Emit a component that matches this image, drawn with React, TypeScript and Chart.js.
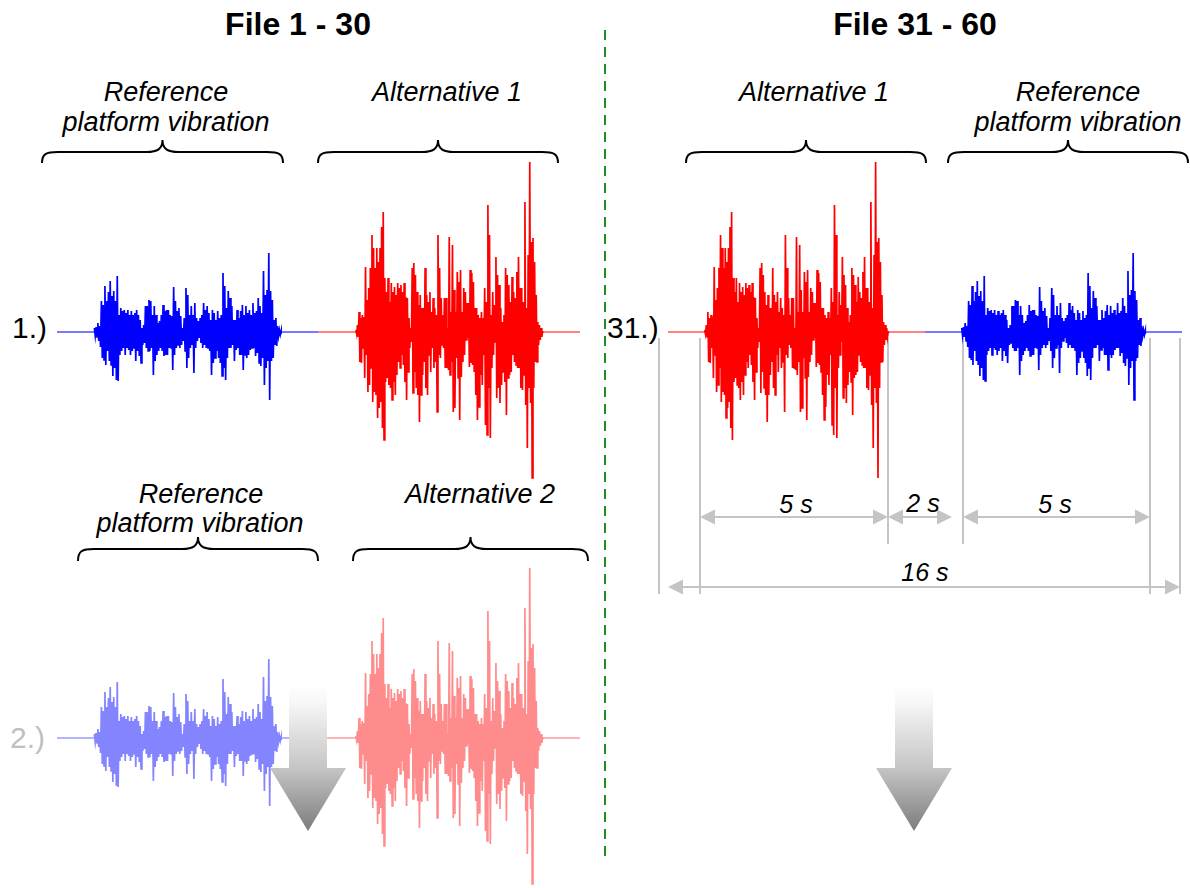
import React, { useEffect, useRef } from "react";
import { Chart, registerables } from "chart.js";

Chart.register(...registerables);

// ---- Signal envelopes (amplitude) ----
// Reference platform vibration: upper / lower peak per sample
const REF_HI = [
  4, 5, 9, 6, 31, 27, 46, 31, 40, 51, 36, 41, 31, 56, 17, 24, 21, 22, 19, 22,
  17, 21, 17, 19, 22, 17, 12, 4, 7, 26, 26, 32, 31, 17, 26, 17, 9, 11, 17, 27,
  21, 22, 22, 17, 16, 45, 31, 21, 24, 16, 4, 14,
  44, 37, 17, 26, 17, 29, 14, 11, 14, 17, 29, 22, 26, 19, 12, 22, 19, 12, 21, 14,
  17, 59, 46, 24, 41, 34, 26, 12, 12, 22, 14, 21, 27, 17, 26, 19, 22, 17, 29, 19,
  21, 34, 26, 19, 61, 37, 42, 79, 41, 32, 12, 14, 6, 2, 1,
];
const REF_LO = [
  -4, -5, -9, -15, -26, -28, -33, -19, -29, -33, -44, -36, -48, -49, -23, -19, -16, -23, -16, -18,
  -23, -19, -16, -29, -19, -24, -31, -13, -11, -16, -19, -19, -16, -43, -29, -23, -19, -16, -19, -24,
  -23, -23, -16, -16, -38, -23, -16, -13, -16, -13, -9, -19,
  -36, -26, -16, -13, -41, -16, -9, -6, -11, -16, -13, -16, -16, -19, -43, -31, -26, -19, -26, -31,
  -44, -36, -48, -26, -16, -16, -13, -29, -18, -16, -23, -23, -38, -23, -26, -23, -18, -16, -16, -24,
  -21, -31, -34, -26, -53, -36, -29, -68, -29, -26, -13, -14, -4, -3, -2,
];
// Alternative vibration: upper / lower peak per sample
const ALT_HI = [
  2, 7, 20, 14, 17, 15, 65, 32, 44, 64, 97, 84, 64, 84, 70, 84, 105, 120, 54, 40,
  54, 30, 49, 40, 45, 37, 49, 44, 47, 40, 49, 35, 34, 14, 4, 64, 69, 57, 40, 27,
  37, 24, 24, 64, 37, 30, 40, 20, 34, 24, 17, 97, 64, 34, 17, 34,
  34, 4, 95, 20, 87, 42, 20, 60, 50, 62, 20, 44, 40, 29, 29, 62, 59, 50, 24, 24,
  17, 14, 20, 14, 44, 30, 127, 97, 17, 40, 27, 75, 57, 47, 24, 10, 17, 64, 57, 47,
  30, 55, 40, 34, 60, 75, 44, 44, 30, 130, 24, 77, 170, 90, 94, 70, 37, 10, 7, 4, 1,
];
const ALT_LO = [
  -2, -5, -30, -31, -16, -46, -23, -60, -53, -36, -70, -60, -63, -86, -76, -70, -96, -108, -50, -46,
  -53, -56, -68, -50, -63, -43, -30, -36, -23, -33, -50, -68, -40, -16, -10, -61, -40, -56, -63, -90,
  -63, -43, -30, -56, -63, -23, -40, -16, -36, -30, -80, -23, -26, -13, -16, -36,
  -36, -38, -43, -30, -80, -76, -26, -46, -88, -45, -30, -23, -8, -6, -35, -31, -33, -40, -63, -88,
  -75, -43, -53, -23, -93, -103, -56, -106, -36, -23, -10, -66, -56, -71, -53, -40, -50, -83, -46, -43,
  -40, -23, -30, -33, -36, -36, -56, -58, -43, -73, -116, -56, -71, -146, -56, -30, -30, -13, -8, -5, -1,
];

// Timing of one sequence (seconds)
const PAUSE_S = 1;
const SIGNAL_S = 5;
const BLOCK_S = PAUSE_S * 2 + SIGNAL_S;
const ROW_S = BLOCK_S * 2;
const AMP_RANGE = 180;

const FONT = "'Liberation Sans', Arial, Helvetica, sans-serif";

type Sig = { hi: number[]; lo: number[] };
const REF: Sig = { hi: REF_HI, lo: REF_LO };
const ALT: Sig = { hi: ALT_HI, lo: ALT_LO };

type Block = { sig: Sig; color: string; lineColor: string };

function burstPoints(sig: Sig, t0: number) {
  const n = sig.hi.length;
  const step = SIGNAL_S / (n - 1);
  const pts: { x: number; y: number }[] = [];
  for (let i = 0; i < n; i++) {
    const t = t0 + i * step;
    pts.push({ x: t, y: sig.hi[i] });
    pts.push({ x: Math.min(t + step / 2, t0 + SIGNAL_S), y: sig.lo[i] });
  }
  return pts;
}

function Strip(props: { left: number; top: number; width: number; height: number; blocks: Block[] }) {
  const ref = useRef<HTMLCanvasElement>(null);
  const { left, top, width, height, blocks } = props;
  useEffect(() => {
    if (!ref.current) return;
    const datasets: any[] = [];
    blocks.forEach((b, k) => {
      const off = k * BLOCK_S;
      datasets.push({
        data: burstPoints(b.sig, off + PAUSE_S),
        borderColor: b.color,
        borderWidth: 1.7,
        pointRadius: 0,
        fill: false,
        tension: 0,
        order: 0,
      });
      datasets.push({
        data: [
          { x: off, y: 0 },
          { x: off + BLOCK_S, y: 0 },
        ],
        borderColor: b.lineColor,
        borderWidth: 1.6,
        pointRadius: 0,
        fill: false,
        order: 1,
      });
    });
    const chart = new Chart(ref.current, {
      type: "line",
      data: { datasets },
      options: {
        animation: false,
        responsive: false,
        devicePixelRatio: 1,
        events: [],
        layout: { padding: 0 },
        plugins: { legend: { display: false }, tooltip: { enabled: false }, title: { display: false } },
        scales: {
          x: { type: "linear", min: 0, max: ROW_S, display: false },
          y: { type: "linear", min: -AMP_RANGE, max: AMP_RANGE, display: false },
        },
      },
    });
    return () => chart.destroy();
  }, []);
  return (
    <canvas
      ref={ref}
      width={width}
      height={height}
      style={{ position: "absolute", left, top, width, height }}
    />
  );
}

function bracePath(x1: number, x2: number, yEnd: number, yFlat: number, yCusp: number) {
  const xc = (x1 + x2) / 2;
  const r = 16;
  return (
    `M${x1},${yEnd} C${x1},${yFlat + 2} ${x1 + 4},${yFlat} ${x1 + r},${yFlat} ` +
    `L${xc - r},${yFlat} C${xc - 5},${yFlat} ${xc},${yFlat - 3} ${xc},${yCusp} ` +
    `C${xc},${yFlat - 3} ${xc + 5},${yFlat} ${xc + r},${yFlat} ` +
    `L${x2 - r},${yFlat} C${x2 - 4},${yFlat} ${x2},${yFlat + 2} ${x2},${yEnd}`
  );
}

const DIM = "#c4c4c4";

function DimArrow({ x1, x2, y }: { x1: number; x2: number; y: number }) {
  const L = 15;
  const H = 7.5;
  return (
    <g>
      <line x1={x1 + 4} y1={y} x2={x2 - 4} y2={y} stroke={DIM} strokeWidth={2} />
      <polygon points={`${x1},${y} ${x1 + L},${y - H} ${x1 + L},${y + H}`} fill={DIM} />
      <polygon points={`${x2},${y} ${x2 - L},${y - H} ${x2 - L},${y + H}`} fill={DIM} />
    </g>
  );
}

function DownArrow({ cx, top, neck, tip, id }: { cx: number; top: number; neck: number; tip: number; id: string }) {
  const sw = 19;
  const hw = 38;
  return (
    <g>
      <defs>
        <linearGradient id={id} gradientUnits="userSpaceOnUse" x1={0} y1={top} x2={0} y2={tip}>
          <stop offset="0" stopColor="#ffffff" />
          <stop offset="0.12" stopColor="#f6f6f6" />
          <stop offset="0.56" stopColor="#c6c6c6" />
          <stop offset="1" stopColor="#7c7c7c" />
        </linearGradient>
      </defs>
      <polygon
        points={`${cx - sw},${top} ${cx + sw},${top} ${cx + sw},${neck} ${cx + hw},${neck} ${cx},${tip} ${cx - hw},${neck} ${cx - sw},${neck}`}
        fill={`url(#${id})`}
      />
    </g>
  );
}

export default function App() {
  const row1Blocks: Block[] = [
    { sig: REF, color: "#0000ff", lineColor: "#4d4dff" },
    { sig: ALT, color: "#ff0000", lineColor: "#ff5a5a" },
  ];
  const row2Blocks: Block[] = [
    { sig: REF, color: "#8484ff", lineColor: "#9a9aff" },
    { sig: ALT, color: "#ff8c8c", lineColor: "#ff9c9c" },
  ];
  const rightBlocks: Block[] = [
    { sig: ALT, color: "#ff0000", lineColor: "#ff5a5a" },
    { sig: REF, color: "#0000ff", lineColor: "#4d4dff" },
  ];

  const it = { fontFamily: FONT, fontStyle: "italic", fontSize: 27, fill: "#000" } as any;
  const dimText = { fontFamily: FONT, fontStyle: "italic", fontSize: 25, fill: "#000", textAnchor: "middle" } as any;

  return (
    <div
      style={{
        position: "fixed",
        left: 0,
        top: 0,
        width: 1190,
        height: 888,
        overflow: "hidden",
        background: "#ffffff",
      }}
    >
      <svg width={1190} height={888} style={{ position: "absolute", left: 0, top: 0 }}>
        <line x1={605} y1={30} x2={605} y2={862} stroke="#1f8f1f" strokeWidth={2} strokeDasharray="10 7" />

        <text x={298} y={35} textAnchor="middle" fontFamily={FONT} fontWeight="bold" fontSize={32}>File 1 - 30</text>
        <text x={915} y={35} textAnchor="middle" fontFamily={FONT} fontWeight="bold" fontSize={32}>File 31 - 60</text>

        <text x={166} y={101} textAnchor="middle" {...it}>Reference</text>
        <text x={166} y={131} textAnchor="middle" {...it}>platform vibration</text>
        <text x={447} y={101} textAnchor="middle" {...it}>Alternative 1</text>
        <text x={814} y={101} textAnchor="middle" {...it}>Alternative 1</text>
        <text x={1078} y={101} textAnchor="middle" {...it}>Reference</text>
        <text x={1078} y={131} textAnchor="middle" {...it}>platform vibration</text>
        <text x={201} y={503} textAnchor="middle" {...it}>Reference</text>
        <text x={200} y={532} textAnchor="middle" {...it}>platform vibration</text>
        <text x={480} y={503} textAnchor="middle" {...it}>Alternative 2</text>

        <g fill="none" stroke="#000" strokeWidth={2}>
          <path d={bracePath(42, 283, 163, 152, 140)} />
          <path d={bracePath(318, 558, 163, 152, 140)} />
          <path d={bracePath(686, 926, 163, 152, 140)} />
          <path d={bracePath(948, 1188, 163, 152, 140)} />
          <path d={bracePath(78, 318, 561, 549, 537)} />
          <path d={bracePath(353, 588, 561, 549, 537)} />
        </g>

        <text x={12} y={338} fontFamily={FONT} fontSize={30}>1.)</text>
        <text x={10} y={748} fontFamily={FONT} fontSize={30} fill="#c0c0c0">2.)</text>
        <text x={607} y={338} fontFamily={FONT} fontSize={30}>31.)</text>

        <g stroke={DIM} strokeWidth={2}>
          <line x1={659} y1={338} x2={659} y2={594} />
          <line x1={700} y1={338} x2={700} y2={594} />
          <line x1={888} y1={338} x2={888} y2={544} />
          <line x1={963} y1={338} x2={963} y2={544} />
          <line x1={1150} y1={338} x2={1150} y2={594} />
          <line x1={1180} y1={338} x2={1180} y2={594} />
        </g>
        <DimArrow x1={700} x2={888} y={517} />
        <DimArrow x1={888} x2={952} y={517} />
        <DimArrow x1={963} x2={1150} y={517} />
        <DimArrow x1={668} x2={1180} y={587} />
        <text x={796} y={513} {...dimText}>5 s</text>
        <text x={923} y={512} {...dimText}>2 s</text>
        <text x={1055} y={513} {...dimText}>5 s</text>
        <text x={925} y={581} {...dimText}>16 s</text>
      </svg>

      <Strip left={57} top={152} width={523} height={360} blocks={row1Blocks} />
      <Strip left={57} top={558} width={523} height={360} blocks={row2Blocks} />
      <Strip left={668} top={152} width={514} height={360} blocks={rightBlocks} />

      <svg width={1190} height={888} style={{ position: "absolute", left: 0, top: 0, pointerEvents: "none" }}>
        <DownArrow cx={308} top={686} neck={768} tip={831} id="g1" />
        <DownArrow cx={914} top={686} neck={768} tip={831} id="g2" />
      </svg>
    </div>
  );
}
